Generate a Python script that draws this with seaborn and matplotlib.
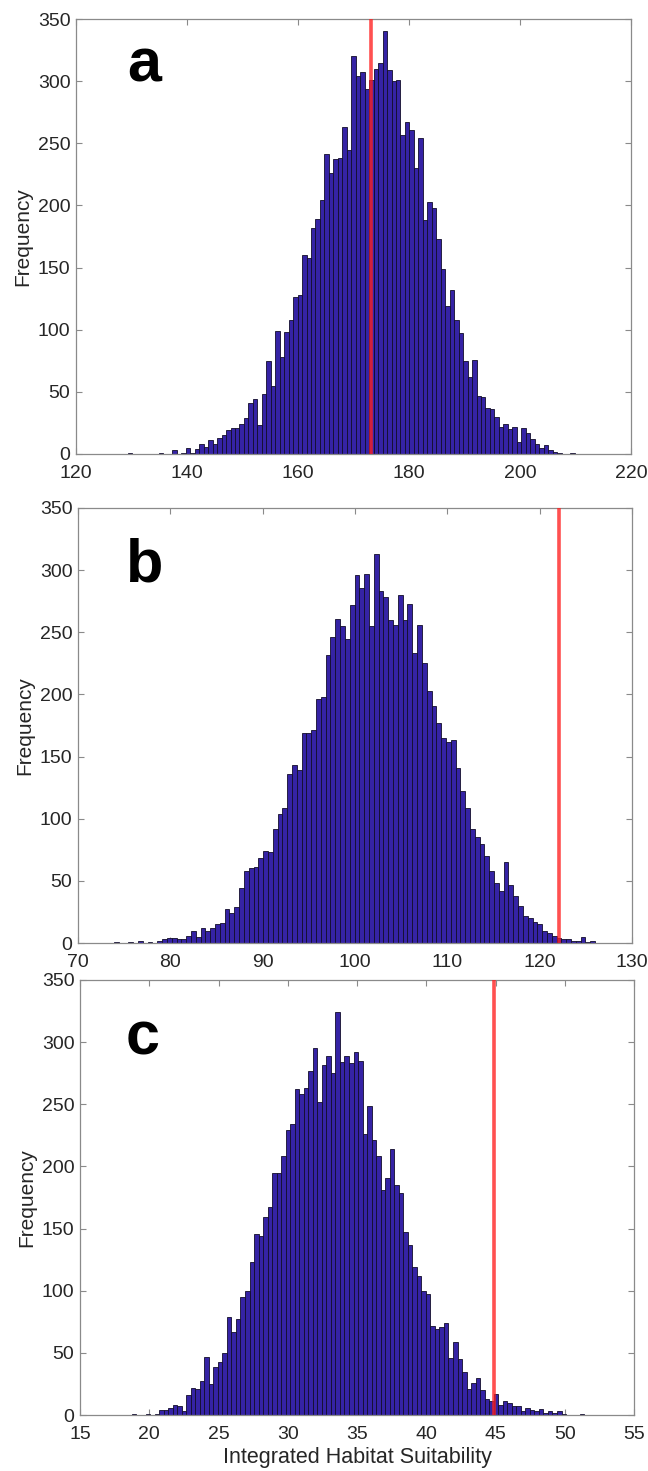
import numpy as np
import pandas as pd
import matplotlib
matplotlib.use("Agg")
import matplotlib.pyplot as plt
import seaborn as sns

# ---------------- data ----------------
# Each panel: 100 equal-width bins spanning [min, max] of the sample
a_range = (129.3, 209.9)
a_counts = [1, 0, 0, 0, 0, 0, 0, 1, 0, 0,
            3, 0, 1, 5, 1, 4, 8, 6, 11, 8,
            13, 15, 19, 21, 21, 24, 29, 41, 44, 23,
            48, 75, 55, 99, 78, 98, 108, 126, 128, 160,
            158, 182, 189, 204, 241, 226, 237, 238, 263, 245,
            320, 304, 307, 294, 301, 310, 315, 340, 309, 300,
            301, 257, 267, 261, 230, 254, 188, 203, 198, 173,
            149, 119, 132, 108, 97, 75, 62, 76, 47, 46,
            37, 36, 30, 22, 24, 20, 22, 10, 21, 17,
            12, 8, 5, 7, 3, 2, 1, 0, 0, 1]
a_observed = 173.1

b_range = (73.9, 126.0)
b_counts = [1, 0, 0, 1, 0, 2, 0, 1, 0, 2,
            3, 4, 4, 3, 3, 6, 10, 5, 12, 10,
            12, 15, 16, 27, 24, 29, 44, 58, 60, 61,
            68, 74, 73, 92, 104, 109, 136, 143, 139, 169,
            169, 171, 196, 198, 232, 246, 261, 255, 245, 272,
            296, 286, 297, 255, 313, 283, 278, 260, 256, 280,
            260, 273, 233, 256, 225, 203, 191, 177, 165, 162,
            163, 141, 122, 109, 92, 85, 80, 70, 58, 48,
            42, 65, 47, 38, 30, 22, 20, 17, 15, 10,
            8, 6, 4, 3, 3, 2, 2, 5, 1, 2]
b_observed = 122.1

c_range = (18.75, 51.4)
c_counts = [1, 0, 0, 1, 0, 1, 4, 4, 6, 8,
            7, 3, 16, 22, 21, 27, 47, 25, 39, 43,
            50, 79, 67, 77, 95, 100, 123, 146, 144, 159,
            167, 195, 195, 208, 229, 234, 262, 258, 263, 277,
            295, 252, 282, 289, 275, 324, 284, 289, 283, 292,
            285, 226, 249, 221, 208, 181, 191, 214, 185, 179,
            147, 137, 119, 112, 100, 97, 72, 69, 71, 74,
            46, 59, 45, 35, 21, 26, 30, 20, 13, 11,
            17, 8, 11, 10, 7, 7, 3, 6, 4, 3,
            5, 2, 3, 2, 3, 1, 0, 0, 0, 1]
c_observed = 44.9

panel_letters = ["a", "b", "c"]
x_limits = [(120, 220), (70, 130), (15, 55)]
x_ticks = [list(range(120, 221, 20)), list(range(70, 131, 10)), list(range(15, 56, 5))]
y_ticks = list(range(0, 351, 50))
y_label = "Frequency"
x_label = "Integrated Habitat Suitability"

# ---------------- style ----------------
sns.set_theme(style="white")
plt.rcParams["font.family"] = ["Liberation Sans", "DejaVu Sans"]
plt.rcParams["axes.linewidth"] = 0.9

BAR_FACE = "#3523A5"
BAR_EDGE = "#120d2a"
AXIS_GRAY = "#8a8a8a"
TEXT_DARK = "#262626"

W, H = 648, 1471
fig = plt.figure(figsize=(W / 100, H / 100), dpi=100)

# axes boxes in pixels: left, top, right, bottom
boxes = [(76, 19, 631, 454), (78, 508, 632, 943), (80, 980, 634, 1415)]
letter_pos = [(0.092, 0.856), (0.087, 0.83), (0.082, 0.828)]

panels = [(a_range, a_counts, a_observed),
          (b_range, b_counts, b_observed),
          (c_range, c_counts, c_observed)]

for k, ((lo, hi), counts, obs) in enumerate(panels):
    l, t, r, b = boxes[k]
    ax = fig.add_axes([l / W, 1 - b / H, (r - l) / W, (b - t) / H])
    n = len(counts)
    edges = [float(e) for e in np.linspace(lo, hi, n + 1)]
    centers = [(edges[i] + edges[i + 1]) / 2 for i in range(n)]
    sns.histplot(x=centers, weights=[float(c) for c in counts], bins=edges, ax=ax,
                 color=BAR_FACE, edgecolor=BAR_EDGE, linewidth=0.6,
                 alpha=1.0, stat="count")
    for p in ax.patches:
        p.set_facecolor(BAR_FACE)
        p.set_alpha(1.0)
    ax.axvline(obs, color="#ff1f1f", alpha=0.78, linewidth=2.6, zorder=5)

    ax.set_xlim(*x_limits[k])
    ax.set_ylim(0, 350)
    ax.set_xticks(x_ticks[k])
    ax.set_yticks(y_ticks)
    ax.tick_params(direction="in", length=4.5, width=0.8, colors=AXIS_GRAY,
                   labelcolor=TEXT_DARK, labelsize=14, top=True, right=True,
                   bottom=True, left=True)
    ax.tick_params(axis="x", pad=8)
    ax.tick_params(axis="y", pad=4)
    for s in ax.spines.values():
        s.set_visible(True)
        s.set_color(AXIS_GRAY)
        s.set_linewidth(0.9)
    ax.set_ylabel(y_label, fontsize=15, color=TEXT_DARK, labelpad=4)
    if k == 2:
        ax.set_xlabel(x_label, fontsize=15.5, color=TEXT_DARK, labelpad=3)
    else:
        ax.set_xlabel("")
    ax.text(letter_pos[k][0], letter_pos[k][1], panel_letters[k],
            transform=ax.transAxes, fontsize=44, fontweight="bold",
            color="black", ha="left", va="baseline")

fig.savefig("out.png", dpi=100, facecolor="white")
